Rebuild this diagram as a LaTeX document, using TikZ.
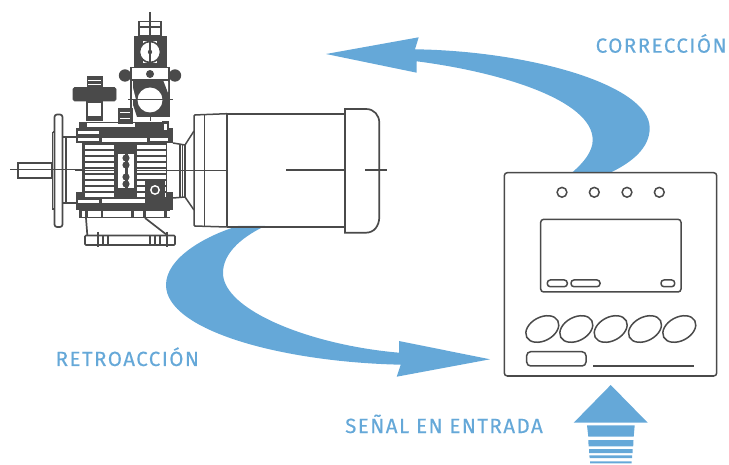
\documentclass[tikz,border=0pt]{standalone}
\usepackage{fontspec}
\setmainfont{Fira Sans}
\newfontfamily\labelfont[LetterSpace=7.2,FakeBold=0.3]{Fira Sans}
\definecolor{flow}{HTML}{65A8D8}
\definecolor{ink}{HTML}{4A4A4A}
\tikzset{
  flowfill/.style={fill=flow,draw=none},
  label text/.style={text=flow,inner sep=0pt,anchor=base west,font=\labelfont\fontsize{20.5}{21}\selectfont},
  ln/.style={draw=ink,line width=1.7pt},
  thin ln/.style={draw=ink,line width=1.5pt},
  solid ink/.style={fill=ink,draw=ink,line width=0.6pt},
  white part/.style={fill=white,draw=ink,line width=1.5pt},
  slot/.style={fill=white,draw=none},
  panel/.style={draw=ink,line width=1.5pt,rounded corners=3pt,fill=white},
  keyoval/.style={draw=ink,line width=1.5pt},
}
\begin{document}
\begin{tikzpicture}[x=1pt,y=-1pt]
\useasboundingbox (0,0) rectangle (729,465);

% ---- big flow arrows
\fill[flowfill] (326,54) -- (418.7,37.3) -- (415,49.3)
  .. controls (530,51) and (649.7,85) .. (649.7,128)
  .. controls (649.7,148) and (632,162) .. (611.7,172)
  -- (572.7,172)
  .. controls (583,163) and (592.7,152) .. (592.7,140)
  .. controls (592.7,100) and (500,72) .. (416.7,61.3)
  -- (416.7,72.7) -- cycle;
\fill[flowfill] (490,359.3) -- (399,341) -- (399,352.7)
  .. controls (310,345) and (223,310) .. (223,273)
  .. controls (223,254) and (240,238) .. (265,226)
  -- (238,226)
  .. controls (205,236) and (166,258) .. (166,285)
  .. controls (166,330) and (280,362) .. (400.7,364.7)
  -- (396.7,376.7) -- cycle;

% ---- input arrow
\fill[flowfill] (610.7,385) -- (647.7,422.7) -- (573.7,422.7) -- cycle;
\fill[flowfill] (587,425.3) -- (634.7,425.3) -- (633.7,436.7) -- (588.3,436.7) -- cycle;
\fill[flowfill] (588.3,440) -- (633.5,440) -- (633.2,446.3) -- (588.6,446.3) -- cycle;
\fill[flowfill] (589,449) -- (632.7,449) -- (632.5,453) -- (589.2,453) -- cycle;
\fill[flowfill] (589.4,455.3) -- (632.2,455.3) -- (632,458) -- (589.6,458) -- cycle;
\fill[flowfill] (590,461.3) -- (631.7,461.3) -- (631.6,463.3) -- (590.1,463.3) -- cycle;

% ---- labels
\node[label text] (corr) at (595.5,52.7) {CORRECCIÓN};
\node[label text] (retro) at (55.5,366) {RETROACCIÓN};
\node[label text] (senal) at (345,433) {SEÑAL EN ENTRADA};

% ---- controller
\draw[panel] (504.3,172.7) rectangle (716.7,376);
\foreach \x in {562,594.3,627,659.3} \draw[keyoval] (\x,192.3) circle (4.9);
\draw[panel] (540.7,219.3) rectangle (681,292);
\draw[keyoval,rounded corners=3pt] (547.3,280) rectangle (567.3,286.7);
\draw[keyoval,rounded corners=3pt] (571,280) rectangle (600,286.7);
\draw[keyoval,rounded corners=3pt] (661,280) rectangle (674.7,286.7);
\foreach \x in {542.3,576.3,610.7,645,679.3}
  \draw[keyoval,rotate around={28:(\x,329)}] (\x,329) ellipse (17.6 and 11.8);
\draw[keyoval,rounded corners=4pt] (526.7,351.7) rectangle (586,366);
\draw[keyoval] (593.3,366) -- (694.3,366);

% ---- motor: right part
\draw[ln] (227,114) -- (345,114) (227,226.7) -- (345,226.7);
\draw[ln] (345,109) -- (366,109) .. controls (374,109) and (379.3,115) .. (379.3,123)
  -- (379.3,216.7) .. controls (379.3,226) and (374,232.7) .. (366,232.7) -- (345,232.7) -- cycle;
\draw[ln] (227,113.7) -- (227,227);
\draw[thin ln,rounded corners=1pt] (227,113.7) -- (194,115) -- (194,226) -- (227,227);
\draw[thin ln] (204.7,115) -- (204.7,226);
\draw[thin ln] (173,143) -- (185,145) -- (194,131);
\draw[thin ln] (173,198) -- (185,197) -- (194,210);
\draw[draw=ink,line width=1.1pt] (180,145) -- (180,197) (185,145) -- (185,197) (182.5,145) -- (182.5,197);
\draw[line width=0.9pt,draw=ink] (172,170) -- (227,170);
\draw[ln] (286,170) -- (345,170);
\draw[ln] (365,170) -- (387,170);

% ---- motor: flange, shaft
\draw[ln] (18,163) rectangle (52,178);
\draw[ln,rounded corners=2.5pt] (54.5,114.5) rectangle (62.5,227);
\draw[ln] (52.5,132) -- (52.5,209) -- (54.5,209) (52.5,132) -- (54.5,132);
\draw[ln] (62.5,137) -- (76,137) (62.5,203) -- (76,203) (66,137) -- (66,203);
\draw[line width=1pt,draw=ink] (10,170) -- (82,170);

% ---- motor: body
\fill[ink] (79,122) rectangle (169,128);
\fill[ink] (81.5,143) rectangle (166.5,192);
\fill[ink] (79,210) rectangle (170,218);
\fill[ink] (76,128) rectangle (173,143);
\fill[ink] (76,192) rectangle (173,210);
% top and bottom windows
\fill[slot] (87,122.8) rectangle (135,127.5);
\fill[slot] (102,138.5) rectangle (147,141.8);
\fill[slot] (78,137.7) rectangle (99,140.6);
\fill[slot] (150,137.7) rectangle (168,140.6);
\fill[slot] (78,131) rectangle (99,133.6);
\fill[slot] (102,199.5) rectangle (145,203);
\fill[slot] (78,200) rectangle (99,203);
% fins
\foreach \y in {145.2,151,157,163,169,175,181,187,193}{
  \fill[slot] (84.5,\y) rectangle (114,\y+3.7);
  \fill[slot] (137,\y) rectangle (165.5,\y+3.7);
}
\fill[ink] (75,169.7) rectangle (172,170.4);
% centre plate
\fill[slot] (118,154) rectangle (134,188);
\fill[ink] (124.5,154) rectangle (127.5,188);
\foreach \y in {158,165,177,184} \fill[ink] (126,\y) circle (3.6);
% foot row
\fill[slot] (87.5,210.6) rectangle (100.5,216.8);
\fill[slot] (103,210.6) rectangle (131,216.8);
\fill[slot] (134,210.6) rectangle (143,216.8);
\fill[slot] (146,210.6) rectangle (164,216.8);
\fill[slot] (82,210.6) rectangle (85,216.8);
\fill[slot] (167,210.6) rectangle (170,216.8);
% terminal box
\fill[ink] (145,180) rectangle (165,198.5);
\draw[draw=white,line width=1.4pt] (155,190) circle (4.2);
% feet
\draw[ln] (86,218) -- (87.3,235);
\draw[ln] (145,218) -- (167,235);
\draw[ln,rounded corners=1pt] (85,235.5) rectangle (175,245);
\draw[thin ln] (108,235.5) -- (108,245) (150,235.5) -- (150,245)
  (103,235.5) -- (103,245) (155,235.5) -- (155,245) (160,235.5) -- (160,245);
\draw[draw=ink,line width=2.4pt] (98,232) -- (98,247) (167,232) -- (167,247);

% ---- hand wheel and small boss
\draw[white part] (87,102) rectangle (102,120);
\fill[ink] (87,116) rectangle (102,121);
\fill[solid ink,rounded corners=1.5pt] (73,87.5) rectangle (116,101);
\fill[solid ink] (87,76) rectangle (102,87.5);
\draw[draw=white,line width=0.8pt] (88,80) -- (101,80) (88,84) -- (101,84);
\fill[solid ink] (118,108) rectangle (132,123);
\draw[draw=white,line width=0.9pt] (120,112) -- (130,112) (120,118) -- (130,118);

% ---- valve
\draw[ln] (150,12) -- (150,36);
\draw[ln] (139,21.5) rectangle (161,35.5) (139,27) -- (161,27);
\fill[solid ink] (134,36) rectangle (166,67);
\fill[white] (143,41) rectangle (157,63);
\draw[draw=ink,line width=1.6pt,fill=white] (150,52) circle (10.5);
\draw[draw=ink,line width=1.8pt] (150,41) -- (150,63);
\fill[ink] (150,52) circle (2.2);
\draw[draw=ink,line width=1.6pt,fill=white] (131,67.5) rectangle (169,80);
\fill[ink] (150,74) circle (4);
\fill[ink] (125,75.5) circle (6.2);
\fill[ink] (175,75.5) circle (6.2);
\draw[draw=ink,line width=1.2pt] (131,67) -- (131,117) (169,67) -- (169,117);
\fill[ink] (133,80) -- (163,80) -- (168,93) -- (168,117) -- (137,117) -- (133,105) -- cycle;
\fill[white] (132,84) -- (132,100) -- (136,100) -- cycle;
\fill[white] (165,82) -- (168,82) -- (168,92) -- cycle;
\fill[white] (150,100) circle (12.5);
\draw[draw=ink,line width=1pt] (128,99.5) -- (173,99.5);
\draw[draw=ink,line width=1pt] (150,117) -- (150,121);
\fill[ink] (162,121) rectangle (169,130);
\fill[white] (164,124) rectangle (166.5,130);
\end{tikzpicture}
\end{document}
